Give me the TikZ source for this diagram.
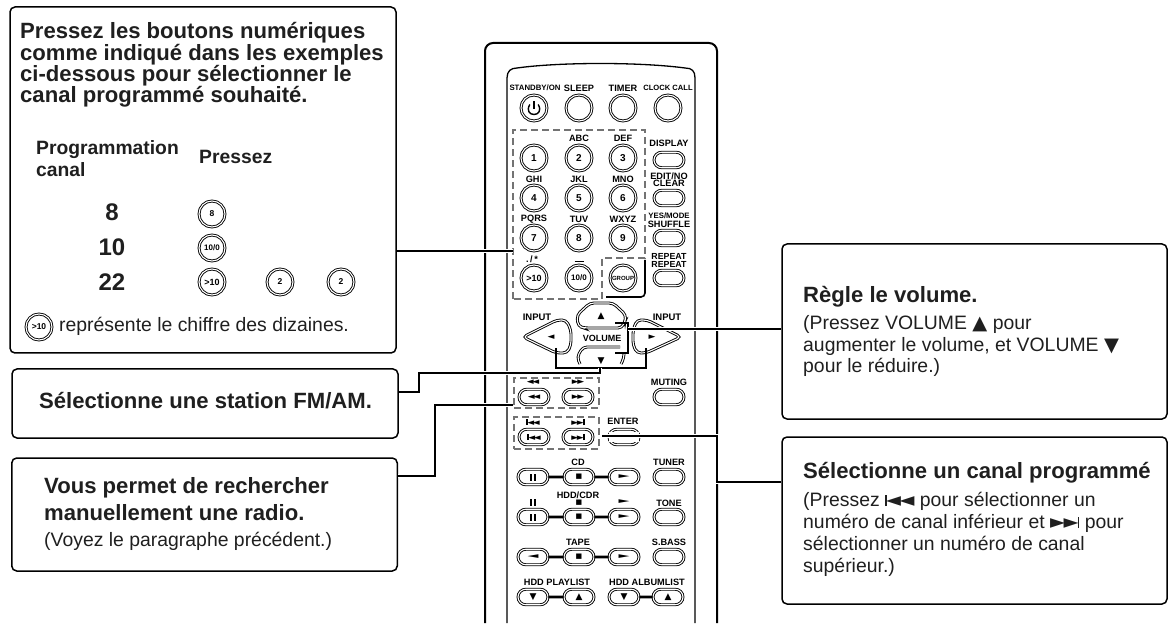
\documentclass[tikz,border=0pt]{standalone}
\usepackage{fontspec}
\setmainfont{Liberation Sans}
\newfontfamily\symfont{DejaVu Sans}
\usetikzlibrary{shapes.misc}
\definecolor{inkc}{gray}{0.12}
\definecolor{dashc}{gray}{0.45}
\newcommand{\icup}{{\symfont\char"25B2}}
\newcommand{\icdown}{{\symfont\char"25BC}}
\newcommand{\icleft}{{\symfont\char"25C4}}
\newcommand{\icright}{{\symfont\char"25BA}}
\newcommand{\icstop}{{\symfont\char"25A0}}
\newcommand{\icpause}{\rule{1.9pt}{7pt}\kern1.7pt\rule{1.9pt}{7pt}}
\newcommand{\icplay}{\scalebox{1.9}[1]{\fontsize{7.5}{8}\selectfont\icright}}
\newcommand{\icrew}{\scalebox{1.9}[1]{\fontsize{7.5}{8}\selectfont\icleft}}
\newcommand{\icprev}{\rule{1.8pt}{11pt}\kern-.8pt\icleft\kern-1.5pt\icleft}
\newcommand{\icnext}{\icright\kern-1.5pt\icright\kern-.8pt\rule{1.8pt}{11pt}}
\newcommand{\icdblr}{\fontsize{9}{9}\selectfont\icright\kern-1.4pt\icright}
\newcommand{\icdbll}{\fontsize{9}{9}\selectfont\icleft\kern-1.4pt\icleft}
\tikzset{
  infobox/.style={draw=black,line width=1.5pt,rounded corners=5pt,inner sep=0pt},
  headtext/.style={anchor=base west,inner sep=0pt,text=inkc,font=\fontsize{22.1}{24}\selectfont\bfseries},
  subhead/.style={anchor=base west,inner sep=0pt,text=inkc,font=\fontsize{19.3}{21}\selectfont\bfseries},
  bodytext/.style={anchor=base west,inner sep=0pt,text=inkc,font=\fontsize{19.4}{21}\selectfont},
  bignum/.style={anchor=base,inner sep=0pt,text=inkc,font=\fontsize{24}{26}\selectfont\bfseries},
  roundkey/.style={circle,draw=black,line width=0.9pt,double,double distance=1.1pt,minimum size=26pt,inner sep=0pt,text=black,font=\fontsize{10}{10}\selectfont\bfseries},
  ovalkey/.style={rounded rectangle,draw=black,line width=0.9pt,double,double distance=1.1pt,minimum width=30pt,minimum height=15.5pt,inner sep=0pt,text=black,font=\fontsize{7.5}{8}\selectfont\bfseries},
  keylabel/.style={inner sep=0pt,text=black,font=\fontsize{9.2}{10}\selectfont\bfseries},
  padline/.style={draw=black,line width=0.9pt,double,double distance=1.1pt,rounded corners=4pt},
  linkbar/.style={draw=black,line width=2.6pt},
  dashbox/.style={draw=dashc,line width=1.3pt,dash pattern=on 7pt off 4pt,inner sep=0pt},
  conn/.style={draw=black,line width=1.5pt,preaction={draw=white,line width=4.5pt}}
}
\begin{document}
\begin{tikzpicture}[x=1pt,y=-1pt]
\useasboundingbox (0,0) rectangle (1176,628);
\node [infobox,minimum width=386pt,minimum height=346pt] (boxa) at (203,180) {};
\node [infobox,minimum width=386pt,minimum height=69pt] (boxb) at (205,403.5) {};
\node [infobox,minimum width=385.5pt,minimum height=113pt] (boxc) at (204.5,514.5) {};
\node [infobox,minimum width=385pt,minimum height=175pt] (boxd) at (974.5,331.5) {};
\node [infobox,minimum width=385pt,minimum height=167pt] (boxe) at (974.5,520.5) {};
\node [headtext] (ta1) at (20,39) {Pressez les boutons numériques};
\node [headtext] (ta2) at (20,60.5) {comme indiqué dans les exemples};
\node [headtext] (ta3) at (20,82) {ci-dessous pour sélectionner le};
\node [headtext] (ta4) at (20,103) {canal programmé souhaité.};
\node [subhead] (tprog) at (36,155) {Programmation};
\node [subhead] (tcanal) at (36,177) {canal};
\node [subhead] (tpress) at (199,164) {Pressez};
\node [bignum] (n8) at (112,221) {8};
\node [bignum] (n10) at (112,256) {10};
\node [bignum] (n22) at (112,291) {22};
\node [roundkey] (ex8) at (212,214) {\fontsize{8.5}{8}\selectfont 8};
\node [roundkey] (ex10) at (212,248) {\fontsize{8}{8}\selectfont 10/0};
\node [roundkey] (ex22a) at (212,282) {\fontsize{9}{8}\selectfont >10};
\node [roundkey] (ex22b) at (280,282) {\fontsize{8.5}{8}\selectfont 2};
\node [roundkey] (ex22c) at (341,282) {\fontsize{8.5}{8}\selectfont 2};
\node [roundkey] (exnote) at (39,327) {\fontsize{8.5}{8}\selectfont >10};
\node [bodytext] (tnote) at (59,332) {représente le chiffre des dizaines.};
\node [headtext] (tb) at (39,409) {Sélectionne une station FM/AM.};
\node [headtext] (tc1) at (44,493) {Vous permet de rechercher};
\node [headtext] (tc2) at (44,520) {manuellement une radio.};
\node [bodytext] (tc3) at (44,546) {(Voyez le paragraphe précédent.)};
\node [headtext] (td1) at (803,303) {Règle le volume.};
\node [bodytext] (td2) at (803,330) {(Pressez VOLUME \icup\ pour};
\node [bodytext] (td3) at (803,352) {augmenter le volume, et VOLUME \icdown};
\node [bodytext] (td4) at (803,373) {pour le réduire.)};
\node [headtext] (te1) at (803,478) {Sélectionne un canal programmé};
\node [bodytext] (te2) at (803,506) {(Pressez \icprev\ pour sélectionner un};
\node [bodytext] (te3) at (803,528) {numéro de canal inférieur et \icnext\ pour};
\node [bodytext] (te4) at (803,550) {sélectionner un numéro de canal};
\node [bodytext] (te5) at (803,572) {supérieur.)};
\draw [black,line width=2pt,rounded corners=8pt] (485,623) -- (485,43) -- (717,43) -- (717,623);
\draw [black,line width=1.3pt] (507,623) -- (507,78) .. controls (507,71) and (511,68) .. (517,68) .. controls (560,62) and (640,62) .. (685,68) .. controls (692,68) and (695,71) .. (695,78) -- (695,623);
\node [keylabel,font=\fontsize{7.8}{8}\selectfont\bfseries] (lstandby) at (535,88) {STANDBY/ON};
\node [keylabel] (lsleep) at (579,88) {SLEEP};
\node [keylabel] (ltimer) at (623,88) {TIMER};
\node [keylabel,font=\fontsize{7.6}{8}\selectfont\bfseries] (lclock) at (668,88) {CLOCK CALL};
\node [roundkey] (kstandby) at (534,108) {};
\draw [black,line width=1.4pt] (529.8,104.5) .. controls (526,111) and (530,114.5) .. (534,114.5) .. controls (538,114.5) and (542,111) .. (538.2,104.5);
\draw [black,line width=1.4pt] (534,101.5) -- (534,109);
\node [roundkey] (ksleep) at (579,108) {};
\node [roundkey] (ktimer) at (623,108) {};
\node [roundkey] (kclock) at (668,108) {};
\node [keylabel] (labc) at (579,138) {ABC};
\node [keylabel] (ldef) at (623,138) {DEF};
\node [keylabel] (ldisplay) at (669,143) {DISPLAY};
\node [roundkey] (k1) at (534,158) {1};
\node [roundkey] (k2) at (579,158) {2};
\node [roundkey] (k3) at (623,158) {3};
\node [ovalkey] (kdisplay) at (669,160) {};
\node [keylabel] (lghi) at (534,179) {GHI};
\node [keylabel] (ljkl) at (579,179) {JKL};
\node [keylabel] (lmno) at (623,179) {MNO};
\node [keylabel] (ledit) at (669,176) {EDIT/NO};
\node [keylabel] (lclear) at (669,183.5) {CLEAR};
\node [roundkey] (k4) at (534,198) {4};
\node [roundkey] (k5) at (579,198) {5};
\node [roundkey] (k6) at (623,198) {6};
\node [ovalkey] (kedit) at (669,198) {};
\node [keylabel] (lpqrs) at (534,219) {PQRS};
\node [keylabel] (ltuv) at (579,219) {TUV};
\node [keylabel] (lwxyz) at (623,219) {WXYZ};
\node [keylabel,font=\fontsize{7.8}{8}\selectfont\bfseries] (lyes) at (669,216) {YES/MODE};
\node [keylabel] (lshuffle) at (669,224) {SHUFFLE};
\node [roundkey] (k7) at (534,238) {7};
\node [roundkey] (k8) at (579,238) {8};
\node [roundkey] (k9) at (623,238) {9};
\node [ovalkey] (kyes) at (669,238) {};
\node [keylabel] (ldot) at (532,259) {.\,/\,*};
\node [keylabel] (lspace) at (579,261) {\rule{9pt}{0.6pt}};
\node [keylabel,font=\fontsize{8.8}{9}\selectfont\bfseries] (lrepeata) at (669,256) {REPEAT};
\node [keylabel,font=\fontsize{8.8}{9}\selectfont\bfseries] (lrepeatb) at (669,264) {REPEAT};
\node [roundkey] (kgt) at (534,278) {\fontsize{9}{9}\selectfont >10};
\node [roundkey] (k0) at (579,278) {\fontsize{8}{8}\selectfont 10/0};
\node [roundkey] (kgroup) at (623,278) {\fontsize{6}{6}\selectfont GROUP};
\node [ovalkey] (krepeat) at (669,278) {};
\draw [draw=dashc,line width=1.3pt,dash pattern=on 7pt off 4pt] (513,299) -- (513,130) -- (645,130) -- (645,258) -- (602,258) -- (602,299) -- cycle;
\coordinate (grpa) at (645,260);
\coordinate (grpb) at (606,297);
\draw [black,line width=1.6pt,rounded corners=4pt] (grpa) |- (grpb);
\node [keylabel,font=\fontsize{9.5}{10}\selectfont\bfseries] (linl) at (537,317) {INPUT};
\node [keylabel,font=\fontsize{9.5}{10}\selectfont\bfseries] (linr) at (667,317) {INPUT};
\draw [padline] (622,328) -- (625,321) -- (626,315) -- (613,303) -- (590,303) -- (577,315) -- (578,326) -- (584,328) -- cycle;
\draw [padline] (620,347) -- (583,347) -- (577,357) -- (580,364);
\draw [padline] (621,364) -- (624,358) -- (624,355);
\draw [padline] (556,353) -- (523,337) -- (557,320) -- (566,320) -- (571,330) -- (571,345) -- (567,353) -- cycle;
\draw [padline] (646,353) -- (681,337) -- (647,320) -- (637,320) -- (633,330) -- (633,345) -- (637,353) -- cycle;
\node [keylabel,font=\fontsize{9}{9}\selectfont] (iup) at (601,316) {\icup};
\node [keylabel,font=\fontsize{9}{9}\selectfont] (idown) at (601,361) {\icdown};
\node [keylabel,font=\fontsize{9}{9}\selectfont] (ileft) at (551,337) {\icleft};
\node [keylabel,font=\fontsize{9}{9}\selectfont] (iright) at (652,337) {\icright};
\node [keylabel,font=\fontsize{9}{10}\selectfont\bfseries] (lvolume) at (602,338) {VOLUME};
\node [dashbox,minimum width=85pt,minimum height=30pt] (seekbox) at (556.5,393) {};
\node [keylabel] (lseeka) at (533,382) {\icdbll};
\node [keylabel] (lseekb) at (578,382) {\icdblr};
\node [ovalkey] (kseeka) at (534,397) {\icdbll};
\node [ovalkey] (kseekb) at (578,397) {\icdblr};
\node [keylabel] (lmuting) at (669,382) {MUTING};
\node [ovalkey] (kmuting) at (669,397) {};
\node [dashbox,minimum width=85pt,minimum height=32pt] (skipbox) at (556.5,433) {};
\node [keylabel] (lskipa) at (533,422) {\rule{1.3pt}{6pt}\kern-.3pt\icdbll};
\node [keylabel] (lskipb) at (578,422) {\icdblr\kern-.3pt\rule{1.3pt}{6pt}};
\node [ovalkey] (kskipa) at (534,437) {\rule{1.3pt}{6pt}\kern-.3pt\icdbll};
\node [ovalkey] (kskipb) at (578,437) {\icdblr\kern-.3pt\rule{1.3pt}{6pt}};
\node [keylabel] (lenter) at (623,421) {ENTER};
\node [ovalkey] (kenter) at (624,437) {};
\node [keylabel] (lcd) at (578,462) {CD};
\node [keylabel] (ltuner) at (669,462) {TUNER};
\node [ovalkey] (ta) at (533,477) {\icpause};
\node [ovalkey] (tb) at (579,477) {\fontsize{7}{7}\selectfont\icstop};
\node [ovalkey] (tc) at (624,477) {\icplay};
\node [ovalkey] (ktuner) at (669,477) {};
\draw [linkbar] (ta) -- (tb);
\draw [linkbar] (tb) -- (tc);
\node [keylabel] (lhdd) at (578,495) {HDD/CDR};
\node [keylabel] (lpa) at (533,502) {\icpause};
\node [keylabel,font=\fontsize{7}{7}\selectfont] (lpb) at (579,503) {\icstop};
\node [keylabel] (lpc) at (624,502) {\icplay};
\node [keylabel] (ltone) at (669,503) {TONE};
\node [ovalkey] (ha) at (533,517) {\icpause};
\node [ovalkey] (hb) at (579,517) {\fontsize{7}{7}\selectfont\icstop};
\node [ovalkey] (hc) at (624,517) {\icplay};
\node [ovalkey] (ktone) at (669,517) {};
\draw [linkbar] (ha) -- (hb);
\draw [linkbar] (hb) -- (hc);
\node [keylabel] (ltape) at (578,542) {TAPE};
\node [keylabel] (lsbass) at (669,542) {S.BASS};
\node [ovalkey] (pa) at (533,557) {\icrew};
\node [ovalkey] (pb) at (579,557) {\fontsize{7}{7}\selectfont\icstop};
\node [ovalkey] (pc) at (624,557) {\icplay};
\node [ovalkey] (ksbass) at (669,557) {};
\draw [linkbar] (pa) -- (pb);
\draw [linkbar] (pb) -- (pc);
\node [keylabel] (lplay) at (557,582) {HDD PLAYLIST};
\node [keylabel] (lalbum) at (647,582) {HDD ALBUMLIST};
\node [ovalkey] (qa) at (533,597) {\fontsize{9}{9}\selectfont\icdown};
\node [ovalkey] (qb) at (579,597) {\fontsize{9}{9}\selectfont\icup};
\node [ovalkey] (qc) at (624,597) {\fontsize{9}{9}\selectfont\icdown};
\node [ovalkey] (qd) at (668,597) {\fontsize{9}{9}\selectfont\icup};
\draw [linkbar] (qa) -- (qb);
\draw [linkbar] (qc) -- (qd);
\coordinate (numend) at (513,251);
\draw [conn] (boxa.east |- numend) -- (numend);
\coordinate (volua) at (615,323);
\coordinate (volub) at (628,323);
\coordinate (voluc) at (628,353);
\coordinate (volud) at (615,353);
\coordinate (volun) at (628,329);
\draw [black,line width=1.5pt] (volua) -- (volub) -- (voluc) -- (volud);
\draw [conn] (volun) -- (boxd.west |- volun);
\coordinate (staa) at (556,348);
\coordinate (stab) at (646,348);
\coordinate (stam) at (600,368);
\coordinate (stan) at (600,373);
\coordinate (stap) at (419,373);
\coordinate (staq) at (419,392);
\draw [black,line width=1.5pt] (staa) |- (stam) -| (stab);
\draw [conn] (stam) -- (stan) -- (stap) -- (staq) -- (boxb.east |- staq);
\coordinate (seekend) at (513,405);
\coordinate (seekp) at (435,405);
\coordinate (seekq) at (435,476);
\draw [conn] (seekend) -- (seekp) -- (seekq) -- (boxc.east |- seekq);
\draw [white,line width=10pt] (kenter.west) -- (kenter.east);
\coordinate (skipend) at (602,436);
\coordinate (skipp) at (717,436);
\coordinate (skipq) at (717,482);
\draw [conn] (skipend) -- (skipp) -- (skipq) -- (boxe.west |- skipq);
\end{tikzpicture}
\end{document}
